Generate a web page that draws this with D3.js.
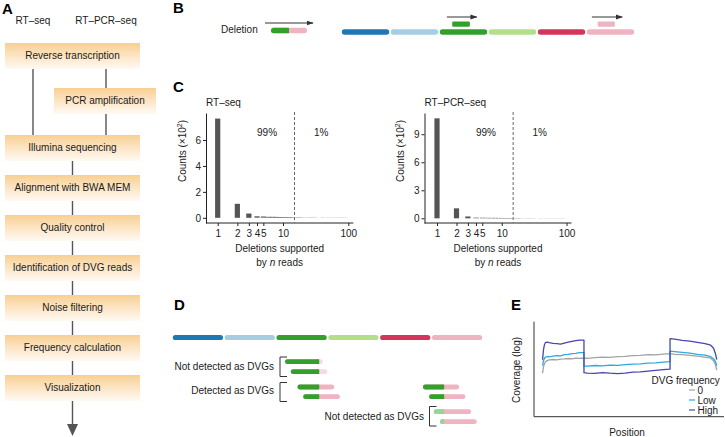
<!DOCTYPE html>
<html><head><meta charset="utf-8">
<script src="https://cdn.jsdelivr.net/npm/d3@7"></script>
<style>
body{margin:0;background:#fff}
svg{display:block}
text{font-family:"Liberation Sans",Arial,Helvetica,sans-serif;fill:#1a1a1a}
</style>
</head><body>
<svg id="c" width="725" height="437"></svg>
<script>
// ---------- DATA ----------
// Panel A
const protocols = ["RT–seq", "RT–PCR–seq"];
const pipelineSteps = ["Reverse transcription", "Illumina sequencing", "Alignment with BWA MEM",
  "Quality control", "Identification of DVG reads", "Noise filtering",
  "Frequency calculation", "Visualization"];
const pcrStep = "PCR amplification";

// Panels B / D
const segmentColors = ["#1f78b4", "#a6cee3", "#33a02c", "#b2df8a", "#d3365a", "#efb3c2"];
const fadedPink = "#f8d9e0", fadedGreen = "#97d495";
// reads in D: [start, junction, end] in genome-segment units, row, style
const readsD = [
  {s: 2.18, j: 2.84, e: 2.91, row: 0, style: "fadeRight"},
  {s: 2.29, j: 2.84, e: 3.00, row: 1, style: "fadeRight"},
  {s: 2.42, j: 2.84, e: 3.13, row: 2, style: "full"},
  {s: 2.53, j: 2.84, e: 3.24, row: 3, style: "full"},
  {s: 4.84, j: 5.25, e: 5.54, row: 2, style: "full"},
  {s: 4.96, j: 5.25, e: 5.66, row: 3, style: "full"},
  {s: 5.05, j: 5.25, e: 5.77, row: 4, style: "fadeLeft"},
  {s: 5.17, j: 5.25, e: 5.88, row: 5, style: "fadeLeft"}
];
const groupLabelsD = ["Not detected as DVGs", "Detected as DVGs", "Not detected as DVGs"];

// Panel C
const readSupport = [1, 2, 3, 4, 5, 6, 7, 8, 9, 10, 11, 12, 13, 14, 17, 20, 25, 30, 40, 50, 60, 70, 80, 90];
const rtSeqCounts = [7.65, 1.08, 0.33, 0.13, 0.11, 0.08, 0.08, 0.07, 0.06, 0.05, 0.04, 0.04, 0.03, 0.03,
  0.03, 0.02, 0.02, 0.02, 0.015, 0.015, 0.01, 0.01, 0.01, 0.01];
const rtPcrSeqCounts = [10.7, 1.07, 0.2, 0.08, 0.07, 0.06, 0.05, 0.05, 0.04, 0.04, 0.03, 0.03, 0.03, 0.03,
  0.03, 0.02, 0.02, 0.02, 0.015, 0.015, 0.01, 0.01, 0.01, 0.01];
const xTicksC = [1, 2, 3, 4, 5, 10, 100];
const yTicksRT = [0, 2, 4, 6];
const yTicksPCR = [0, 3, 6, 9];
const threshold = 15;
const shareLabels = ["99%", "1%"];

// Panel E (position %, log coverage units)
const positionE = [4.5, 5, 5.5, 6, 7, 8, 10, 12, 14, 16, 18, 20, 22, 24, 26.3, 26.3, 28, 32, 36, 40, 44, 48,
  52, 56, 60, 64, 68, 71.6, 71.6, 74, 78, 82, 86, 90, 93, 94.5, 95.5, 96.2];
const coverageZero = [43.5, 50, 53, 55, 56, 56.8, 57.2, 56.8, 57.5, 57.8, 58.2, 57.9, 58.6, 58.4, 58.7, 58.7,
  58.4, 59.1, 59.6, 59.3, 60.1, 60.4, 61.1, 61.4, 62.1, 61.8, 62.6, 63, 63, 62.4, 62.1, 61.4, 60.6, 59.6, 58.5, 56, 52, 46.5];
const coverageLow = [51, 56, 58.5, 59.5, 60.2, 59.8, 60.6, 61.1, 60.8, 62.1, 62.4, 63.1, 63.3, 64.1, 64, 50.5,
  50.6, 51.2, 50.9, 51.6, 51.4, 52.1, 52.6, 52.9, 53.6, 53.9, 54.6, 55, 65.6, 65.1, 64.4, 63.6, 62.4, 61.6, 60, 58, 55, 51];
const coverageHigh = [57, 67, 72, 74, 74.5, 74, 73.4, 73.1, 72.6, 73.6, 74.6, 75.4, 76.1, 76.5, 76.6, 44,
  43.6, 43.4, 44.1, 43.5, 43.1, 43.6, 44.6, 44.9, 45.6, 46.4, 47.1, 47.5, 78, 77.6, 76.4, 75.6, 74.4, 73.1, 71.5, 68.5, 63, 57];
const legendE = ["0", "Low", "High"];
const colorsE = ["#a3a3a3", "#2ea8e0", "#4646ad"];

// ---------- DRAW ----------
const svg = d3.select("#c");
const defs = svg.append("defs");
const grad = defs.append("linearGradient").attr("id", "boxg").attr("x1", 0).attr("y1", 0).attr("x2", 0).attr("y2", 1);
grad.append("stop").attr("offset", "0%").attr("stop-color", "#f8cf92");
grad.append("stop").attr("offset", "45%").attr("stop-color", "#fce3c0");
grad.append("stop").attr("offset", "100%").attr("stop-color", "#fffaf4");
defs.append("marker").attr("id", "arr").attr("viewBox", "0 0 10 10").attr("refX", 9).attr("refY", 5)
  .attr("markerWidth", 7).attr("markerHeight", 7).attr("orient", "auto-start-reverse")
  .append("path").attr("d", "M0,1.5 L10,5 L0,8.5 Z").attr("fill", "#333");

function txt(g, x, y, s, size, anchor, extra) {
  const t = g.append("text").attr("x", x).attr("y", y).attr("font-size", size)
    .attr("text-anchor", anchor || "start").text(s);
  if (extra) extra(t);
  return t;
}

// Panel letters
[["A", 2, 14], ["B", 173, 13], ["C", 173, 92], ["D", 174, 310], ["E", 511, 310]].forEach(([l, x, y]) =>
  txt(svg, x, y, l, 15, "start", t => t.attr("font-weight", "bold").style("fill", "#000")));

// ---------- Panel A ----------
const gA = svg.append("g");
const colX = [33, 106];
protocols.forEach((p, i) => txt(gA, colX[i], 23.5, p, 10, "middle"));
const rowY = pipelineSteps.map((s, i) => i === 0 ? 55 : 147 + (i - 1) * 40);
const pcrY = 100;
const bh = 26, boxTop = c => c - 12;
gA.append("g").selectAll("rect").data(pipelineSteps).join("rect")
  .attr("x", 5).attr("width", 135).attr("y", (d, i) => boxTop(rowY[i])).attr("height", bh).attr("fill", "url(#boxg)");
gA.append("rect").attr("x", 54).attr("width", 102).attr("y", boxTop(pcrY)).attr("height", bh).attr("fill", "url(#boxg)");
gA.append("g").selectAll("text").data(pipelineSteps).join("text")
  .attr("x", 72.5).attr("y", (d, i) => rowY[i] + 3.6).attr("text-anchor", "middle").attr("font-size", 10).text(d => d);
txt(gA, 105, pcrY + 3.6, pcrStep, 10, "middle");
const lineA = (x, y1, y2) => gA.append("line").attr("x1", x).attr("x2", x).attr("y1", y1).attr("y2", y2)
  .attr("stroke", "#555").attr("stroke-width", 1.4);
lineA(colX[0], rowY[0] + 14, boxTop(rowY[1]));
lineA(colX[1], rowY[0] + 14, boxTop(pcrY));
lineA(colX[1], pcrY + 14, boxTop(rowY[1]));
for (let i = 1; i < rowY.length - 1; i++) lineA(72.5, rowY[i] + 14, boxTop(rowY[i + 1]));
lineA(72.5, rowY[rowY.length - 1] + 14, 426);
gA.append("path").attr("d", "M67,424 L78,424 L72.5,436 Z").attr("fill", "#555");

// pill helper: bicolor read
function read(g, x0, xj, x1, yc, h, cL, cR) {
  g.append("rect").attr("x", x0).attr("y", yc - h / 2).attr("width", x1 - x0).attr("height", h)
    .attr("rx", h / 2).attr("fill", cR);
  g.append("rect").attr("x", x0).attr("y", yc - h / 2).attr("width", xj - x0).attr("height", h)
    .attr("rx", h / 2).attr("fill", cL);
  g.append("rect").attr("x", xj - h / 2).attr("y", yc - h / 2).attr("width", h / 2).attr("height", h).attr("fill", cL);
}
function genome(g, scale, yc, h) {
  g.append("g").selectAll("rect").data(segmentColors).join("rect")
    .attr("x", (d, i) => scale(i) + 0.8).attr("width", (d, i) => scale(i + 1) - scale(i) - 1.6)
    .attr("y", yc - h / 2).attr("height", h).attr("rx", h / 2).attr("fill", d => d);
}
function arrow(g, x1, x2, y) {
  g.append("line").attr("x1", x1).attr("x2", x2).attr("y1", y).attr("y2", y)
    .attr("stroke", "#333").attr("stroke-width", 1).attr("marker-end", "url(#arr)");
}

// ---------- Panel B ----------
const gB = svg.append("g");
const xB = d3.scaleLinear().domain([0, 6]).range([341, 635]);
genome(gB, xB, 32, 5.3);
txt(gB, 221, 33, "Deletion", 10, "start");
arrow(gB, 265, 313, 23);
read(gB, 271, 289, 307, 30.5, 5.3, segmentColors[2], segmentColors[5]);
gB.append("rect").attr("x", xB(2.27)).attr("width", xB(2.63) - xB(2.27)).attr("y", 21.4).attr("height", 5.3)
  .attr("rx", 1.2).attr("fill", segmentColors[2]);
gB.append("rect").attr("x", xB(5.24)).attr("width", xB(5.59) - xB(5.24)).attr("y", 21.4).attr("height", 5.3)
  .attr("rx", 1.2).attr("fill", segmentColors[5]);
arrow(gB, xB(2.16), xB(2.77), 17);
arrow(gB, xB(5.12), xB(5.74), 17);

// ---------- Panel C ----------
function hist(cfg, counts, title) {
  const g = svg.append("g");
  const x = d3.scaleLog().domain([1, 100]).range([cfg.x1, cfg.x100]);
  const y = d3.scaleLinear().domain(cfg.yDom).range([223, 113]);
  const data = readSupport.map((n, i) => ({n, c: counts[i]}));
  g.append("g").selectAll("rect").data(data).join("rect")
    .attr("x", d => x(d.n) - 2.6).attr("width", 5.2)
    .attr("y", d => y(d.c)).attr("height", d => y(0) - y(d.c))
    .attr("fill", d => d.n <= 3 ? "#555" : "#777");
  const ya = g.append("g").attr("transform", `translate(${cfg.ax},0)`)
    .call(d3.axisLeft(y).tickValues(cfg.yTicks).tickSize(3).tickSizeOuter(0).tickPadding(2));
  const xa = g.append("g").attr("transform", "translate(0,223)")
    .call(d3.axisBottom(x).tickValues(xTicksC).tickFormat(d3.format("d")).tickSize(3).tickSizeOuter(0).tickPadding(4));
  xa.select(".domain").remove();
  g.append("line").attr("x1", cfg.ax).attr("x2", cfg.x100 + 5).attr("y1", 223).attr("y2", 223)
    .attr("stroke", "#222");
  [ya, xa].forEach(a => {
    a.selectAll("text").attr("font-size", 10).attr("font-family", "Liberation Sans, Arial, sans-serif").style("fill", "#222");
    a.selectAll("line,path").attr("stroke", "#222");
  });
  g.append("line").attr("x1", x(threshold)).attr("x2", x(threshold)).attr("y1", 112).attr("y2", 223)
    .attr("stroke", "#666").attr("stroke-width", 1).attr("stroke-dasharray", "3,2");
  txt(g, x(5.7), 136, shareLabels[0], 10, "middle");
  txt(g, x(38.5), 136, shareLabels[1], 10, "middle");
  txt(g, cfg.ax, 105.5, title, 10, "start");
  const cx = (cfg.ax + cfg.x100 + 5) / 2;
  txt(g, cx, 252, "Deletions supported", 10, "middle");
  txt(g, cx, 266, "", 10, "middle", t => {
    t.append("tspan").text("by ");
    t.append("tspan").attr("font-style", "italic").text("n");
    t.append("tspan").text(" reads");
  });
  const yl = g.append("text").attr("transform", `translate(${cfg.ax - 20.5},151) rotate(-90)`)
    .attr("text-anchor", "middle").attr("font-size", 10);
  yl.append("tspan").text("Counts (×10");
  yl.append("tspan").attr("font-size", 7).attr("dy", -4).text("2");
  yl.append("tspan").attr("dy", 4).text(")");
}
hist({x1: 217.7, x100: 348.3, ax: 206, yDom: [-0.4, 8.08], yTicks: yTicksRT}, rtSeqCounts, "RT–seq");
hist({x1: 437, x100: 566.5, ax: 424.5, yDom: [-0.5, 11.27], yTicks: yTicksPCR}, rtPcrSeqCounts, "RT–PCR–seq");

// ---------- Panel D ----------
const gD = svg.append("g");
const xD = d3.scaleLinear().domain([0, 6]).range([172, 483]);
genome(gD, xD, 337.5, 5.2);
const rowYD = [361.7, 371.7, 387, 396.7, 411.7, 421.7];
readsD.forEach(r => {
  const cL = r.style === "fadeLeft" ? fadedGreen : segmentColors[2];
  const cR = r.style === "fadeRight" ? fadedPink : segmentColors[5];
  read(gD, xD(r.s), xD(r.j), xD(r.e), rowYD[r.row], 4.8, cL, cR);
});
const groupsD = [
  {label: groupLabelsD[0], tx: 274, ty: 369.5, bx: 280, y1: 357, y2: 376.5},
  {label: groupLabelsD[1], tx: 274, ty: 394, bx: 280, y1: 382.5, y2: 401.5},
  {label: groupLabelsD[2], tx: 424, ty: 419.5, bx: 429.5, y1: 406.5, y2: 426}
];
groupsD.forEach(gr => {
  txt(gD, gr.tx, gr.ty, gr.label, 10, "end");
  gD.append("path").attr("d", `M${gr.bx + 7},${gr.y1} H${gr.bx} V${gr.y2} H${gr.bx + 7}`)
    .attr("fill", "none").attr("stroke", "#333").attr("stroke-width", 1);
});

// ---------- Panel E ----------
const gE = svg.append("g");
const xE = d3.scaleLinear().domain([0, 100]).range([534, 724]);
const yE = d3.scaleLinear().domain([0, 95]).range([416.7, 321.7]);
const lineGen = d3.line().x((d, i) => xE(positionE[i])).y(d => yE(d));
[coverageZero, coverageLow, coverageHigh].forEach((s, k) =>
  gE.append("path").datum(s).attr("d", lineGen).attr("fill", "none")
    .attr("stroke", colorsE[k]).attr("stroke-width", 1.3).attr("stroke-linejoin", "round"));
gE.append("path").attr("d", `M${xE(0)},${yE(95)} V${yE(0)} H${xE(100)}`).attr("fill", "none")
  .attr("stroke", "#333").attr("stroke-width", 1);
gE.append("text").attr("transform", `translate(520,370) rotate(-90)`).attr("text-anchor", "middle")
  .attr("font-size", 10).text("Coverage (log)");
txt(gE, 627, 436, "Position", 10, "middle");
txt(gE, 651.5, 383.5, "DVG frequency", 10, "start");
legendE.forEach((l, i) => {
  const yy = 390 + i * 10;
  gE.append("line").attr("x1", 689).attr("x2", 695).attr("y1", yy).attr("y2", yy)
    .attr("stroke", colorsE[i]).attr("stroke-width", 1.2);
  txt(gE, 697.5, yy + 3.6, l, 10, "start");
});
</script>
</body></html>
